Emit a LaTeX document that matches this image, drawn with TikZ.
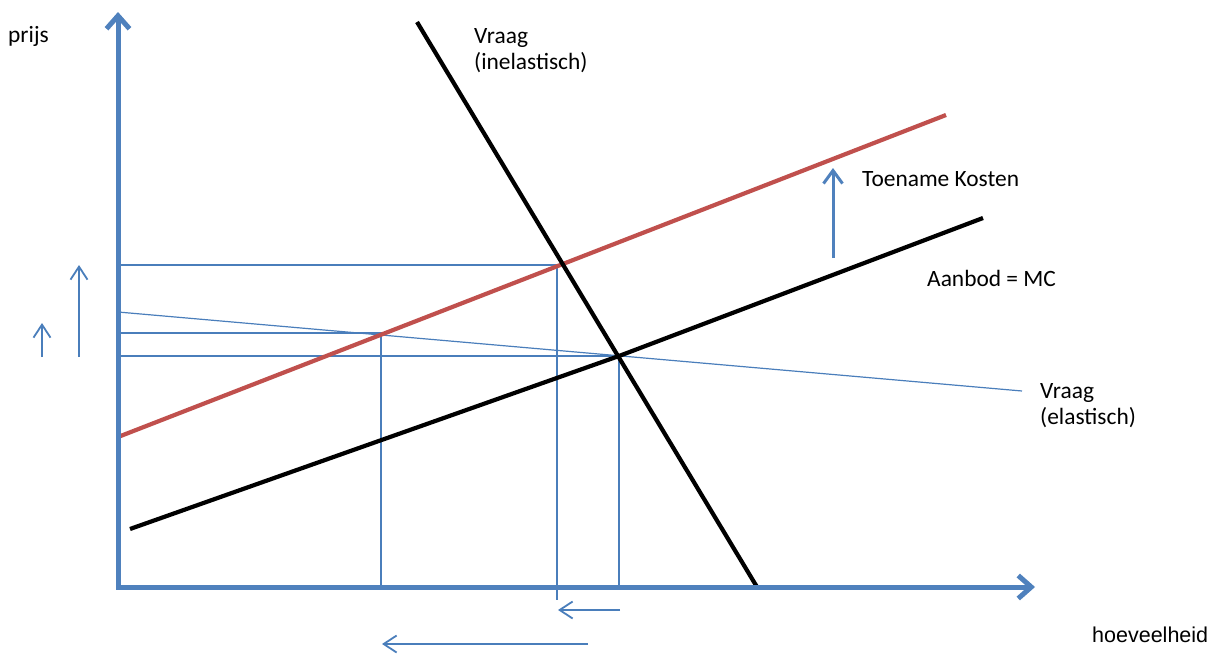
\documentclass[tikz,border=0pt]{standalone}
\usepackage{fontspec}
\setmainfont{Carlito}
\newfontfamily\arialfont{Liberation Sans}
\usetikzlibrary{arrows.meta}
\definecolor{axisblue}{HTML}{4F81BD}
\definecolor{lineblue}{HTML}{4A7EBB}
\definecolor{costred}{HTML}{C0504D}
\begin{document}
\begin{tikzpicture}[x=1pt,y=-1pt,
  axisline/.style={draw=axisblue,line width=5pt,line join=miter,
    {Straight Barb[length=13pt,width=23pt]}-{Straight Barb[length=13pt,width=23pt]}},
  curve/.style={line width=4.2pt},
  guide/.style={draw=lineblue,line width=1.2pt},
  shiftarrow/.style={draw=lineblue,line width=1.8pt,-{Straight Barb[length=13pt,width=17pt]}},
  costarrow/.style={draw=axisblue,line width=3pt,-{Straight Barb[length=13pt,width=19pt]}},
  lbl/.style={inner sep=0pt,font=\fontsize{23.4pt}{26pt}\selectfont,align=left}
]
\useasboundingbox (0,0) rectangle (1222,653);
% coordinates
\coordinate (O) at (118,587);
\coordinate (Ytip) at (118,12);
\coordinate (Xtip) at (1035,587);
\coordinate (DI1) at (417,22);
\coordinate (DI2) at (757,587);
\coordinate (S1) at (130,529);
\coordinate (E0) at (619,356);
\coordinate (S2) at (983,218);
\coordinate (R1) at (118,437);
\coordinate (R2) at (946,115);
\coordinate (DE1) at (118,312);
\coordinate (DE2) at (1022,391);
\coordinate (E1) at (557,265);
\coordinate (E2) at (381,333);
\coordinate (P1) at (118,265);
\coordinate (P2) at (118,333);
\coordinate (P0) at (118,356);
\coordinate (Q1) at (557,600);
\coordinate (Q2) at (381,587);
\coordinate (Q0) at (619,587);
% shift arrows coordinates
\coordinate (ua1) at (42,357);  \coordinate (ua1t) at (42,323);
\coordinate (ua2) at (79,357);  \coordinate (ua2t) at (79,265);
\coordinate (la1) at (620,610); \coordinate (la1t) at (558,610);
\coordinate (la2) at (588,644); \coordinate (la2t) at (382,644);
\coordinate (ca) at (833,258);  \coordinate (cat) at (833,168);

% guide lines
\draw[guide] (P1) -- (E1) -- (Q1);
\draw[guide] (P2) -- (E2) -- (Q2);
\draw[guide] (P0) -- (E0) -- (Q0);
% elastic demand
\draw[guide] (DE1) -- (DE2);
% curves
\draw[curve,costred] (R1) -- (R2);
\draw[curve,black] (S1) -- (E0) -- (S2);
\draw[curve,black] (DI1) -- (DI2);
% axes
\draw[axisline] (Ytip) -- (O) -- (Xtip);
% shift arrows
\draw[shiftarrow] (ua1) -- (ua1t);
\draw[shiftarrow] (ua2) -- (ua2t);
\draw[shiftarrow] (la1) -- (la1t);
\draw[shiftarrow] (la2) -- (la2t);
\draw[costarrow] (ca) -- (cat);
% labels
\node[lbl,anchor=base west] (prijs) at (8,42) {prijs};
\node[lbl,anchor=north west] (vinel) at (474,28) {Vraag\\(inelastisch)};
\node[lbl,anchor=base west] (toename) at (862,186) {Toename Kosten};
\node[lbl,anchor=base west] (aanbod) at (927,286) {Aanbod = MC};
\node[lbl,anchor=north west] (vel) at (1040,383) {Vraag\\(elastisch)};
\node[inner sep=0pt,anchor=base west,font=\arialfont\fontsize{21.5pt}{24pt}\selectfont] (hoev) at (1092,642) {hoeveelheid};
\end{tikzpicture}
\end{document}
